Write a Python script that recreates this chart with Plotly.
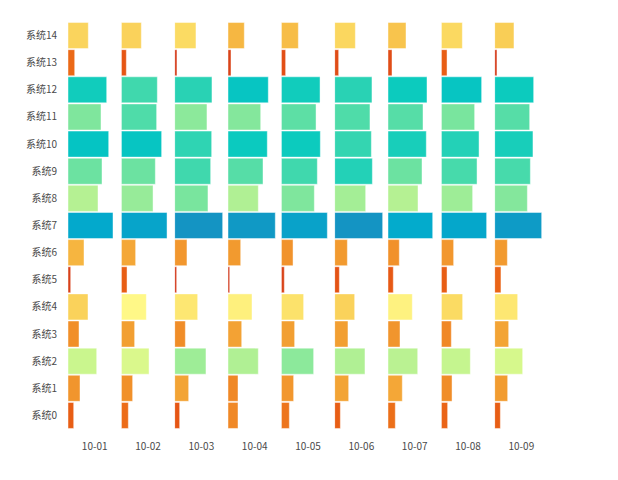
import plotly.graph_objects as go

systems = ["系统%d" % i for i in range(15)]
dates = ["10-01", "10-02", "10-03", "10-04", "10-05", "10-06", "10-07", "10-08", "10-09"]

# values per date, ordered 系统0 .. 系统14
v_1001 = [5.7, 12.0, 28.7, 11.0, 20.0, 2.7, 16.0, 45.0, 30.0, 34.0, 40.7, 33.0, 38.7, 6.7, 20.3]
v_1002 = [7.0, 11.3, 27.7, 13.3, 25.0, 5.7, 14.3, 45.7, 31.7, 34.0, 40.3, 35.3, 36.0, 5.0, 20.0]
v_1003 = [5.0, 14.0, 31.3, 10.7, 23.0, 2.0, 12.3, 48.0, 33.3, 36.0, 37.0, 32.3, 37.3, 2.3, 21.3]
v_1004 = [10.0, 10.0, 30.3, 13.7, 24.0, 1.7, 12.7, 47.3, 30.3, 35.0, 39.3, 32.7, 40.3, 3.0, 16.3]
v_1005 = [8.0, 12.3, 32.3, 13.3, 22.3, 3.0, 11.7, 46.0, 33.0, 36.0, 39.0, 34.7, 38.7, 4.3, 17.0]
v_1006 = [5.7, 14.0, 30.3, 13.3, 20.0, 4.7, 12.7, 48.0, 31.0, 37.7, 36.7, 35.3, 37.3, 4.0, 20.7]
v_1007 = [7.3, 14.3, 29.7, 12.0, 24.3, 5.3, 11.3, 44.7, 30.0, 34.0, 38.3, 35.0, 39.0, 4.0, 18.0]
v_1008 = [6.3, 10.7, 29.0, 10.0, 21.3, 5.7, 12.3, 45.3, 31.3, 35.7, 37.7, 33.3, 40.3, 5.7, 21.0]
v_1009 = [5.7, 13.0, 28.0, 14.0, 23.0, 6.3, 12.7, 47.0, 32.7, 35.7, 38.3, 35.0, 39.0, 2.3, 19.3]
series = [v_1001, v_1002, v_1003, v_1004, v_1005, v_1006, v_1007, v_1008, v_1009]

CMAX = 50.0
color_stops = [
    (0, "#c42a1e"), (2, "#d33a1c"), (5, "#e65614"), (7, "#ec6c18"),
    (10, "#f08826"), (13, "#f29c30"), (16, "#f6b540"), (19, "#f9cc54"),
    (22, "#fcdf68"), (25, "#fff887"), (28, "#d6f88c"), (31, "#a4ee96"),
    (34, "#6ce2a1"), (36, "#40d8ad"), (39, "#0ccbbe"), (42, "#00bec7"),
    (45, "#03a9cc"), (48, "#1494c3"), (50, "#1a86bd"),
]
colorscale = [[v / CMAX, c] for v, c in color_stops]

LABEL_FONT = dict(size=10, color="#4a4a4a", family="Noto Sans CJK SC")

COL_RANGE = 53.33
n = len(dates)
fig = go.Figure()
for i, (d, vals) in enumerate(zip(dates, series)):
    xa = "x" if i == 0 else "x%d" % (i + 1)
    fig.add_trace(go.Bar(
        x=vals, y=systems, orientation="h", xaxis=xa, yaxis="y",
        marker=dict(color=vals, colorscale=colorscale, cmin=0, cmax=CMAX,
                    line=dict(color="rgba(255,255,255,0.45)", width=1)),
        showlegend=False, hoverinfo="x+y",
    ))
    key = "xaxis" if i == 0 else "xaxis%d" % (i + 1)
    fig.layout[key] = dict(
        domain=[i / n, (i + 1) / n], range=[0, COL_RANGE], anchor="y",
        showgrid=False, zeroline=False, showline=False, automargin=False,
        tickvals=[COL_RANGE / 2], ticktext=[d],
        ticks="outside", ticklen=8, tickcolor="rgba(0,0,0,0)",
        tickfont=LABEL_FONT,
    )

fig.update_layout(
    width=618, height=480,
    margin=dict(l=60, r=78, t=14, b=59, autoexpand=False),
    paper_bgcolor="white", plot_bgcolor="white",
    bargap=0.04,
    yaxis=dict(
        categoryorder="array", categoryarray=systems, automargin=False,
        showgrid=False, zeroline=False, showline=False,
        ticks="outside", ticklen=8, tickcolor="rgba(0,0,0,0)",
        tickfont=LABEL_FONT,
    ),
)

fig.write_html("out.html")
